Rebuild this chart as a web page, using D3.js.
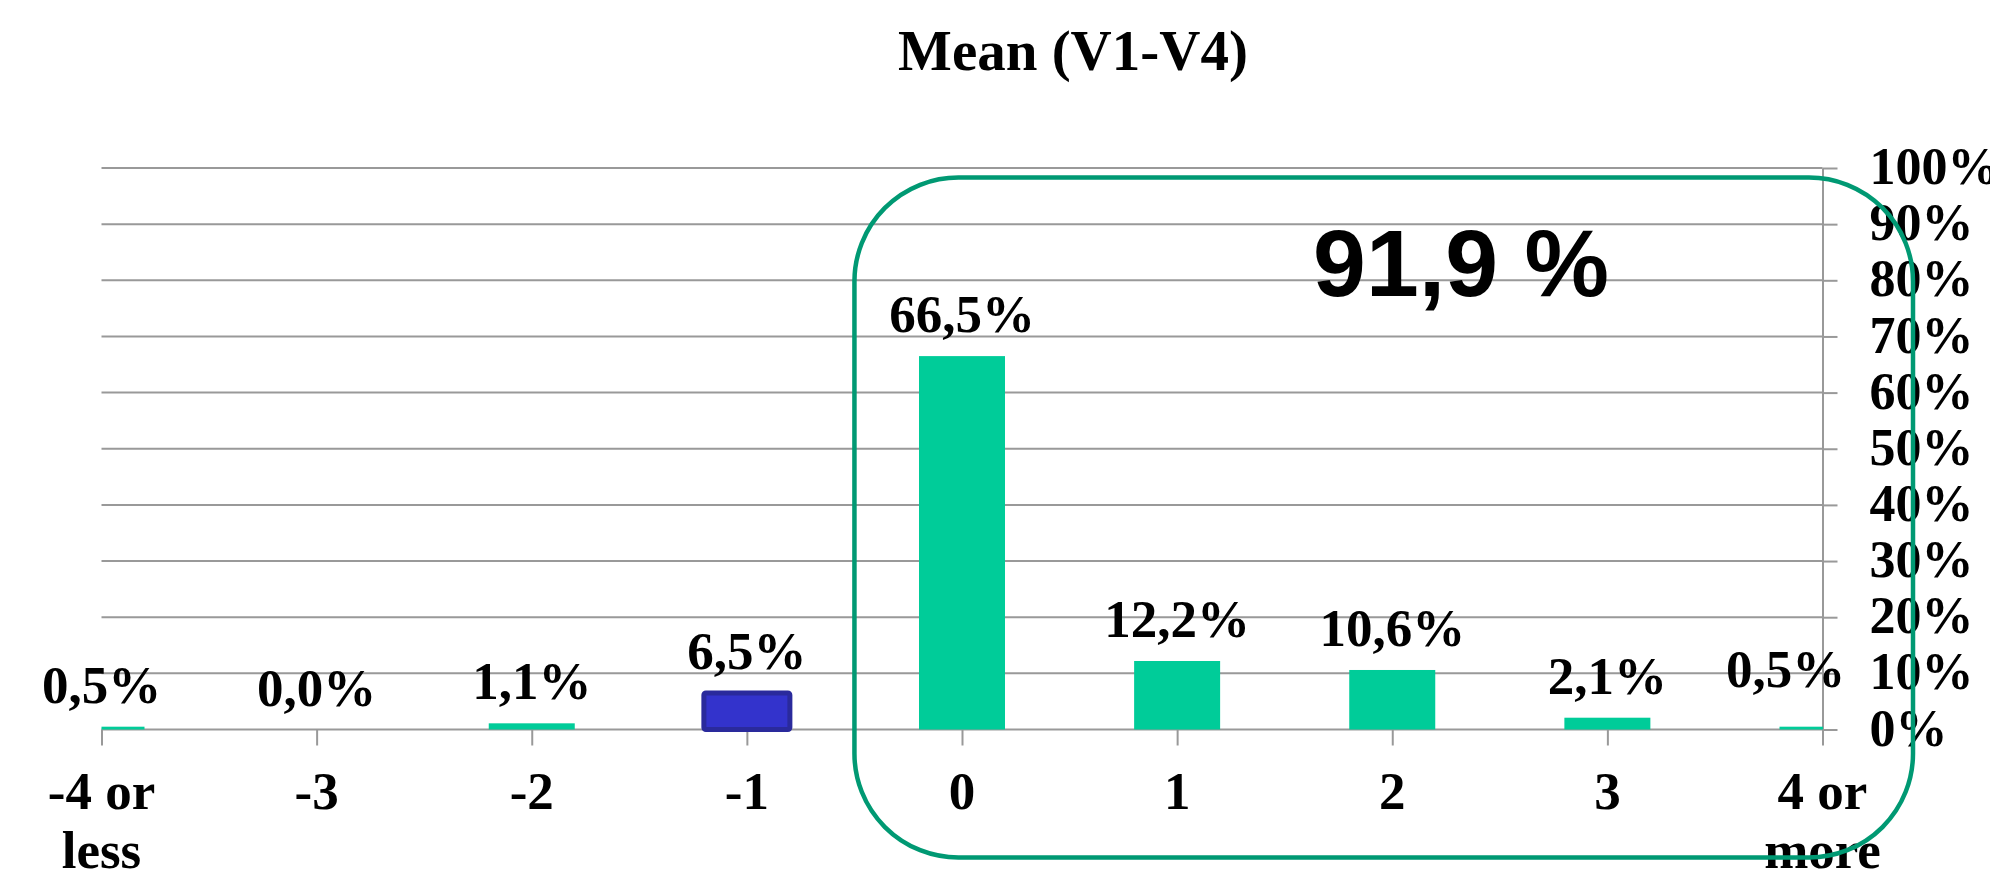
<!DOCTYPE html>
<html>
<head>
<meta charset="utf-8">
<script src="https://cdn.jsdelivr.net/npm/d3@7/dist/d3.min.js"></script>
<style>
  html, body { margin: 0; padding: 0; background: #ffffff; overflow: hidden; }
  svg { display: block; }
  .serif { font-family: "Liberation Serif", "Times New Roman", serif; font-weight: bold; fill: #000; }
</style>
</head>
<body>
<svg id="chart" width="1990" height="874"></svg>
<script>
// Distribution of mean difference (V1-V4), share of cases per category
const titleText = "Mean (V1-V4)";
const categories = ["-4 or\nless", "-3", "-2", "-1", "0", "1", "2", "3", "4 or\nmore"];
const shares = [0.5, 0.0, 1.1, 6.5, 66.5, 12.2, 10.6, 2.1, 0.5];
const highlightCategory = "-1";
const boxedCategories = ["0", "1", "2", "3", "4 or\nmore"];
const yTicks = [0, 10, 20, 30, 40, 50, 60, 70, 80, 90, 100];

const W = 1990, H = 874;
const plot = { left: 101.5, right: 1822.5, top: 168, bottom: 729.5 };
const barWidth = 86;
const teal = "#00CC99";
const blueFill = "#3333CC";
const blueStroke = "#2A2A9C";
const gridColor = "#999999";
const boxColor = "#009973";

const locale = d3.formatLocale({ decimal: ",", thousands: ".", grouping: [3], currency: ["", " €"] });
const fmtValue = v => locale.format(".1f")(v) + "%";
const fmtTick = v => v + "%";

const svg = d3.select("#chart");
svg.append("rect").attr("width", W).attr("height", H).attr("fill", "#fff");

const x = d3.scalePoint().domain(categories).range([plot.left, plot.right]);
const y = d3.scaleLinear().domain([0, 100]).range([plot.bottom, plot.top]);

// Title
svg.append("text").attr("class", "serif")
  .attr("x", 1073).attr("y", 70)
  .attr("text-anchor", "middle")
  .style("font-size", "57px")
  .text(titleText);

// Horizontal gridlines
svg.append("g").selectAll("line").data(yTicks).join("line")
  .attr("x1", plot.left).attr("x2", plot.right)
  .attr("y1", d => y(d)).attr("y2", d => y(d))
  .attr("stroke", gridColor).attr("stroke-width", 2);

// Right value axis
const yAxis = d3.axisRight(y).tickValues(yTicks).tickFormat(fmtTick)
  .tickSize(15).tickSizeOuter(0).tickPadding(32);
const gy = svg.append("g").attr("transform", `translate(${plot.right},0)`).call(yAxis);
gy.select(".domain").attr("stroke", gridColor).attr("stroke-width", 2);
gy.selectAll(".tick line").attr("stroke", gridColor).attr("stroke-width", 2);
gy.selectAll(".tick text").attr("class", "serif")
  .style("font-size", "52px").attr("dy", "0.30em");

// Category axis ticks
const xAxis = d3.axisBottom(x).tickSize(16).tickSizeOuter(0).tickFormat("");
const gx = svg.append("g").attr("transform", `translate(0,${plot.bottom})`).call(xAxis);
gx.select(".domain").remove();
gx.selectAll(".tick line").attr("stroke", gridColor).attr("stroke-width", 2);

// Bars, clipped to the plot area so the end columns show half width
svg.append("clipPath").attr("id", "plotClip")
  .append("rect").attr("x", plot.left).attr("y", 0)
  .attr("width", plot.right - plot.left + 0.5).attr("height", H);

const data = categories.map((c, i) => ({ cat: c, v: shares[i] }));
svg.append("g").attr("clip-path", "url(#plotClip)")
  .selectAll("rect").data(data).join("rect")
  .attr("x", d => x(d.cat) - barWidth / 2)
  .attr("width", barWidth)
  .attr("y", d => y(d.v))
  .attr("height", d => y(0) - y(d.v))
  .attr("rx", d => d.cat === highlightCategory ? 2 : 0)
  .attr("fill", d => d.cat === highlightCategory ? blueFill : teal)
  .attr("stroke", d => d.cat === highlightCategory ? blueStroke : "none")
  .attr("stroke-width", 5);

// Value labels above the bars
const labelOffset = 24;
const labels = svg.append("g").selectAll("text").data(data).join("text")
  .attr("class", "serif")
  .style("font-size", "53px")
  .attr("text-anchor", "middle")
  .attr("x", d => x(d.cat))
  .attr("y", d => y(d.v) - labelOffset)
  .text(d => fmtValue(d.v));
// The last label is pulled in and up so it stays clear of the axis labels
labels.filter((d, i) => i === data.length - 1)
  .attr("x", d => x(d.cat) - 37)
  .attr("y", d => y(d.v) - labelOffset - 16);

// Category labels (two lines where needed)
const catLabels = svg.append("g").selectAll("text").data(categories).join("text")
  .attr("class", "serif")
  .style("font-size", "53px")
  .attr("text-anchor", "middle")
  .attr("x", d => x(d))
  .attr("y", 809);
catLabels.each(function (d) {
  const lines = d.split("\n");
  d3.select(this).selectAll("tspan").data(lines).join("tspan")
    .attr("x", x(d))
    .attr("dy", (l, i) => i === 0 ? 0 : 59)
    .text(l => l);
});

// Rounded box around the non-negative categories, with their combined share
const boxLeft = x(boxedCategories[0]) - x.step() / 2;
const boxRight = x(boxedCategories[boxedCategories.length - 1]) + 90.5;
const boxTop = 177.5, boxBottom = 857.5;
svg.append("rect")
  .attr("x", boxLeft).attr("y", boxTop)
  .attr("width", boxRight - boxLeft).attr("height", boxBottom - boxTop)
  .attr("rx", 104).attr("ry", 104)
  .attr("fill", "none").attr("stroke", boxColor).attr("stroke-width", 4.5);

const boxedSum = d3.sum(data.filter(d => boxedCategories.includes(d.cat)), d => d.v);
svg.append("text")
  .attr("x", 1461).attr("y", 296)
  .attr("text-anchor", "middle")
  .style("font-family", "'Liberation Sans', Arial, sans-serif")
  .style("font-weight", "bold")
  .style("font-size", "95px")
  .attr("fill", "#000")
  .text(locale.format(".1f")(boxedSum) + " %");
</script>
</body>
</html>
